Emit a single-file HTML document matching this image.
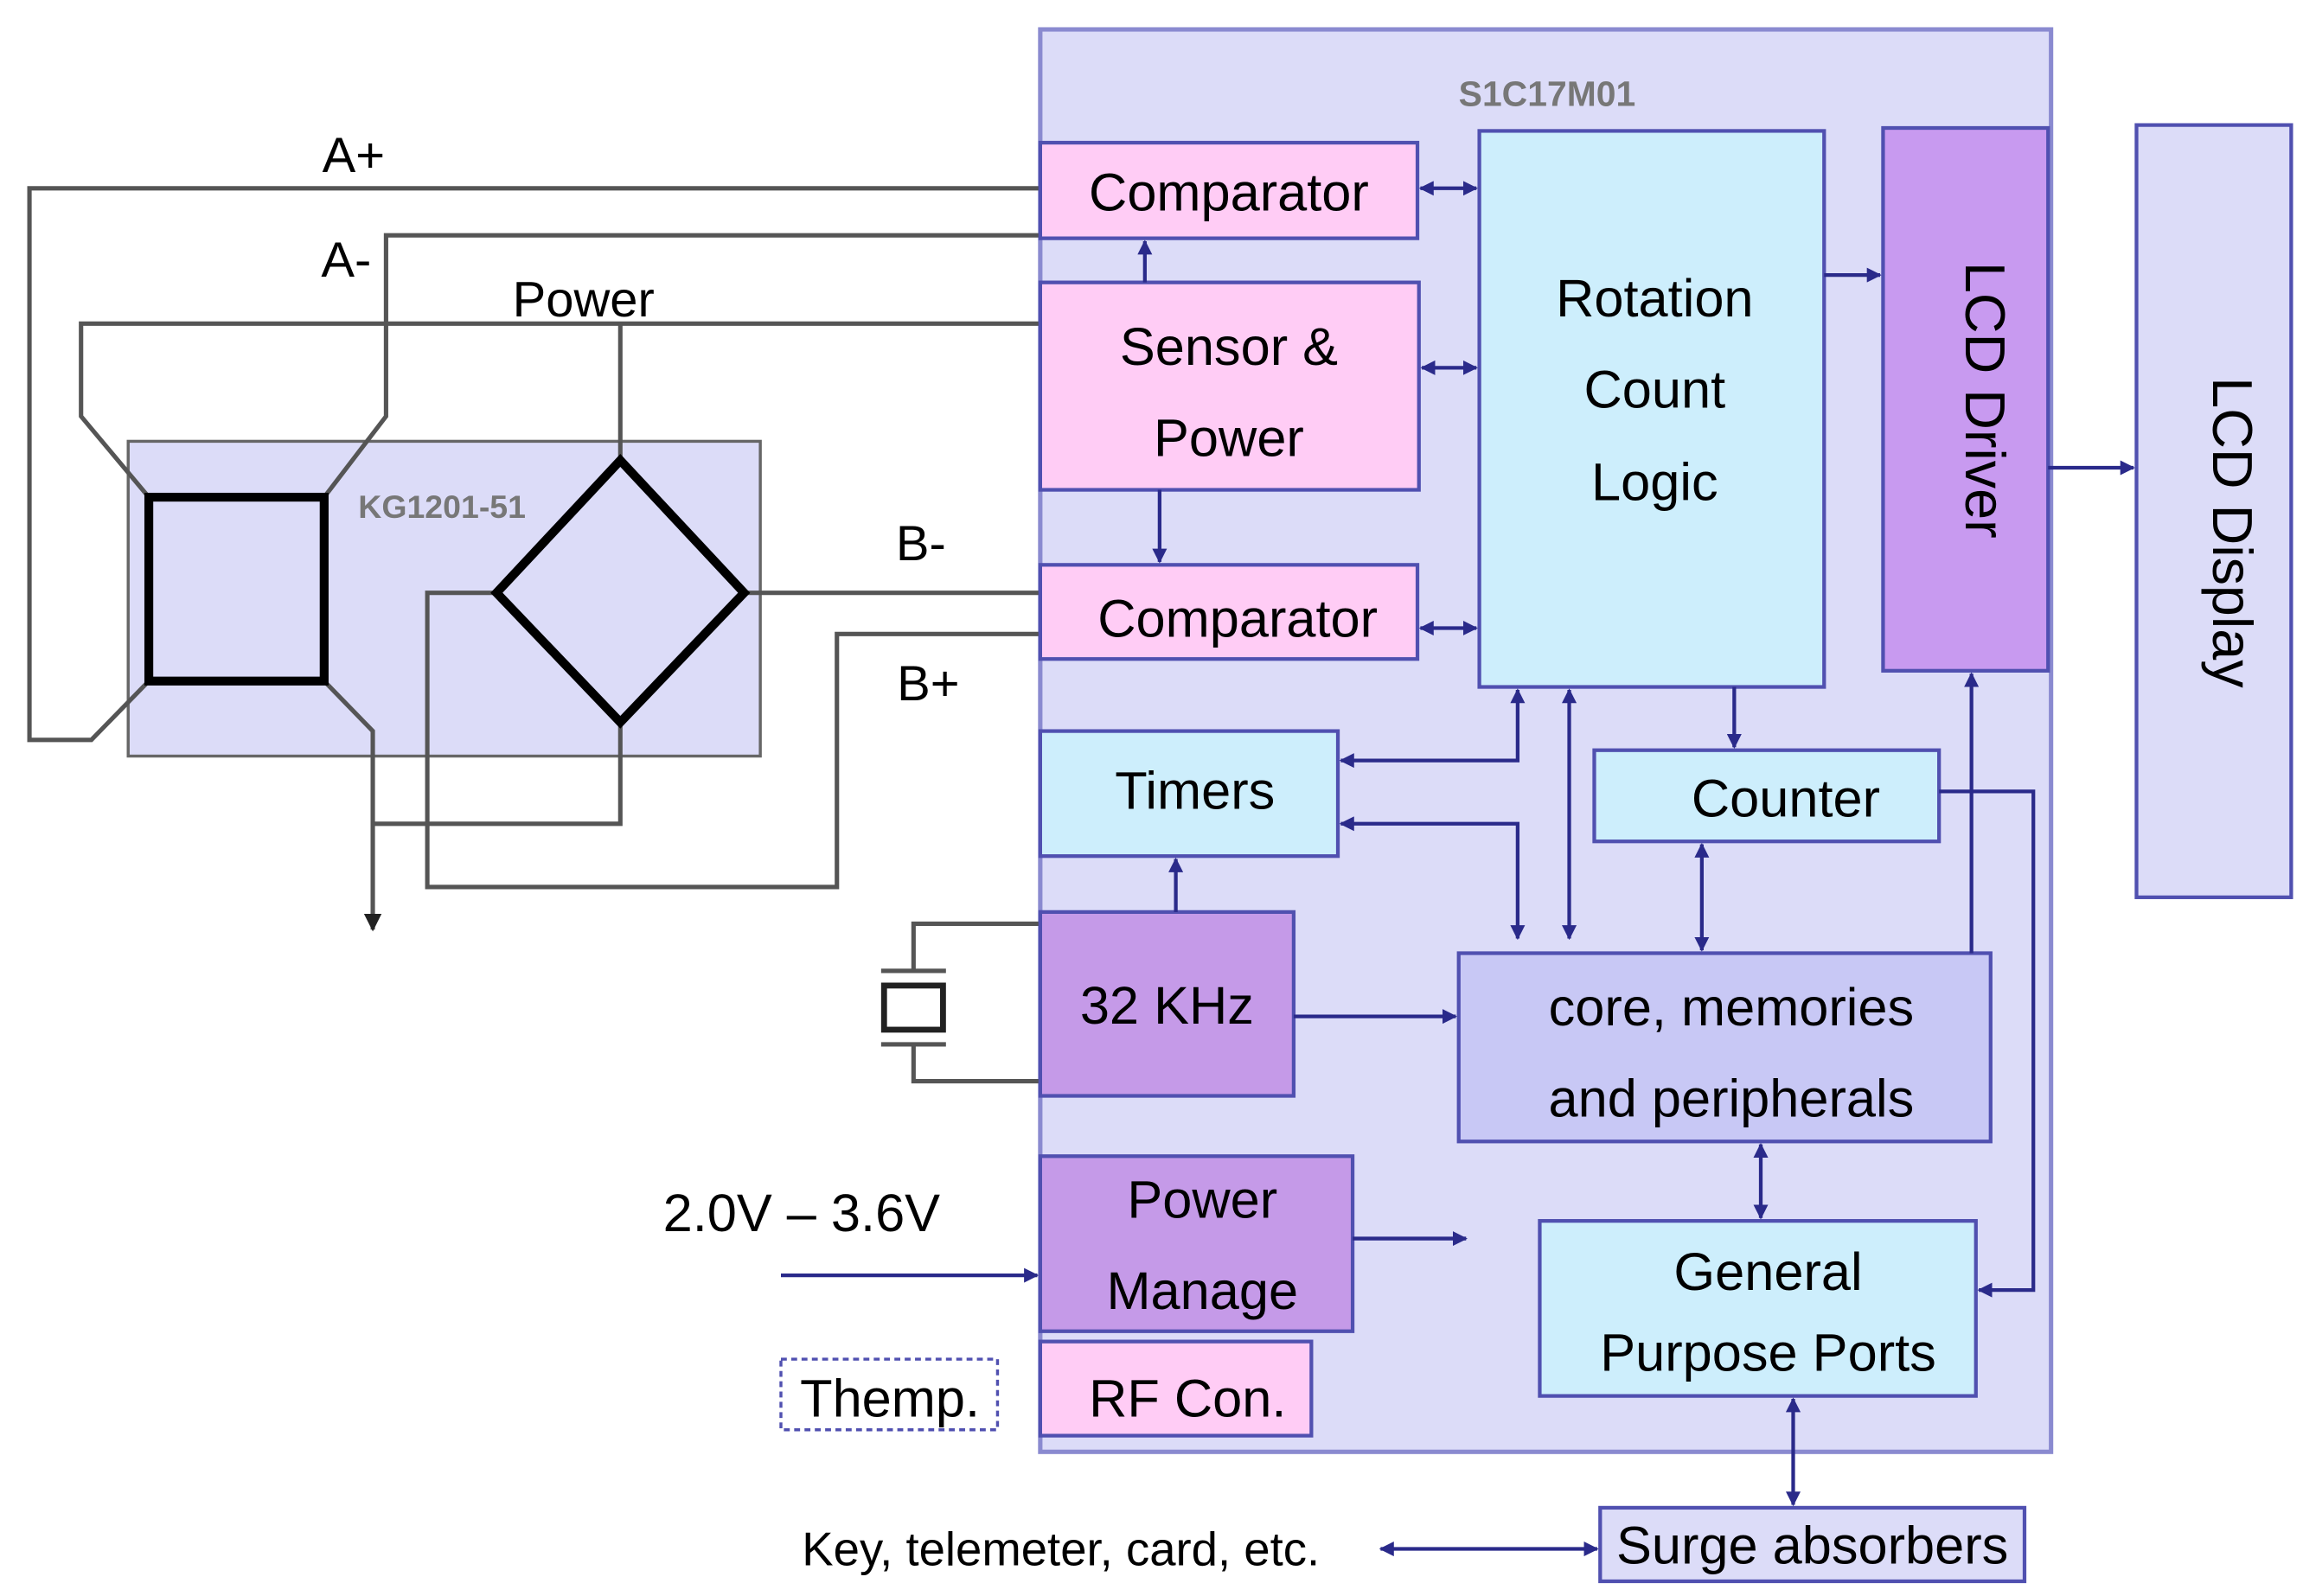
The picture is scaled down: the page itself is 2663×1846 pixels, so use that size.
<!DOCTYPE html>
<html><head><meta charset="utf-8"><style>html,body{margin:0;padding:0;background:#fff}svg{display:block}text{font-family:"Liberation Sans",sans-serif}</style></head><body>
<svg width="2663" height="1846" viewBox="0 0 1563 1085" preserveAspectRatio="none" xmlns="http://www.w3.org/2000/svg">
<defs>
<marker id="ar" viewBox="0 0 10 10" refX="9" refY="5" markerWidth="4" markerHeight="4" orient="auto-start-reverse"><path d="M0,0L10,5L0,10z" fill="#2a2a8a"/></marker>
<marker id="ak" viewBox="0 0 10 10" refX="9" refY="5" markerWidth="4" markerHeight="4" orient="auto"><path d="M0,0L10,5L0,10z" fill="#222"/></marker>
</defs>
<rect width="1563" height="1085" fill="#fff"/>
<!-- chip -->
<rect x="706" y="20" width="686" height="967" fill="#dcdcf8" stroke="#8a8ad0" stroke-width="3"/>
<text x="1050" y="72" font-size="24" font-weight="bold" fill="#777" text-anchor="middle">S1C17M01</text>
<!-- KG box -->
<rect x="87" y="300" width="429" height="214" fill="#dcdcf8" stroke="#666" stroke-width="2"/>
<text x="300" y="352" font-size="22" font-weight="bold" fill="#777" text-anchor="middle">KG1201-51</text>
<!-- wires -->
<g fill="none" stroke="#555" stroke-width="3">
<polyline points="706,128 20,128 20,503 62,503 101,463"/>
<polyline points="706,160 262,160 262,283 220,338"/>
<polyline points="706,220 55,220 55,283 101,338"/>
<line x1="421" y1="220" x2="421" y2="313"/>
<line x1="505" y1="403" x2="706" y2="403"/>
<polyline points="706,431 568,431 568,603 290,603 290,403 337,403"/>
<polyline points="220,463 253,497 253,632" marker-end="url(#ak)"/>
<polyline points="421,491 421,560 253,560"/>
<polyline points="706,628 620,628 620,660"/>
<polyline points="706,735 620,735 620,710"/>
<line x1="598" y1="660" x2="642" y2="660"/>
<line x1="598" y1="710" x2="642" y2="710"/>
</g>
<rect x="600" y="670" width="40" height="30" fill="#fff" stroke="#222" stroke-width="4"/>
<rect x="101" y="338" width="119" height="125" fill="#dcdcf8" stroke="#000" stroke-width="6"/>
<polygon points="421,313 505,403 421,491 337,403" fill="#dcdcf8" stroke="#000" stroke-width="6"/>
<g font-size="34" fill="#000">
<text x="240" y="117" text-anchor="middle">A+</text>
<text x="235" y="188" text-anchor="middle">A-</text>
<text x="396" y="215" text-anchor="middle">Power</text>
<text x="625" y="381" text-anchor="middle">B-</text>
<text x="630" y="476" text-anchor="middle">B+</text>
</g>
<!-- blocks -->
<g stroke="#5050b0" stroke-width="2.5">
<rect x="706" y="97" width="256" height="65" fill="#ffccf5"/>
<rect x="706" y="192" width="257" height="141" fill="#ffccf5"/>
<rect x="706" y="384" width="256" height="64" fill="#ffccf5"/>
<rect x="1004" y="89" width="234" height="378" fill="#cdeefc"/>
<rect x="1278" y="87" width="112" height="369" fill="#c89af0"/>
<rect x="1450" y="85" width="105" height="525" fill="#dcdcf8"/>
<rect x="706" y="497" width="202" height="85" fill="#cdeefc"/>
<rect x="1082" y="510" width="234" height="62" fill="#cdeefc"/>
<rect x="706" y="620" width="172" height="125" fill="#c59ae8"/>
<rect x="990" y="648" width="361" height="128" fill="#c8c8f5"/>
<rect x="706" y="786" width="212" height="119" fill="#c59ae8"/>
<rect x="706" y="912" width="184" height="64" fill="#ffccf5"/>
<rect x="1045" y="830" width="296" height="119" fill="#cdeefc"/>
<rect x="1086" y="1025" width="288" height="50" fill="#dcdcf8"/>
</g>
<rect x="530" y="924" width="147" height="48" fill="#fff" stroke="#5050b0" stroke-width="2" stroke-dasharray="4,3"/>
<g font-size="36" fill="#000" text-anchor="middle">
<text x="834" y="143">Comparator</text>
<text x="834" y="248">Sensor &amp;</text>
<text x="834" y="310">Power</text>
<text x="840" y="433">Comparator</text>
<text x="1123" y="215">Rotation</text>
<text x="1123" y="277">Count</text>
<text x="1123" y="340">Logic</text>
<text x="811" y="550">Timers</text>
<text x="1212" y="555">Counter</text>
<text x="792" y="696">32 KHz</text>
<text x="1175" y="697">core, memories</text>
<text x="1175" y="759">and peripherals</text>
<text x="816" y="828">Power</text>
<text x="816" y="890">Manage</text>
<text x="806" y="963">RF Con.</text>
<text x="1200" y="877">General</text>
<text x="1200" y="932">Purpose Ports</text>
<text x="1230" y="1063">Surge absorbers</text>
<text x="604" y="963">Themp.</text>
<text x="544" y="837">2.0V – 3.6V</text>
<text x="720" y="1064" font-size="32">Key, telemeter, card, etc.</text>
<text transform="translate(1334,272) rotate(90)" font-size="38">LCD Driver</text>
<text transform="translate(1502,362) rotate(90)" font-size="38">LCD Display</text>
</g>
<!-- arrows -->
<g fill="none" stroke="#2a2a8a" stroke-width="2.5">
<line x1="964" y1="128" x2="1002" y2="128" marker-start="url(#ar)" marker-end="url(#ar)"/>
<line x1="777" y1="192" x2="777" y2="164" marker-end="url(#ar)"/>
<line x1="965" y1="250" x2="1002" y2="250" marker-start="url(#ar)" marker-end="url(#ar)"/>
<line x1="787" y1="333" x2="787" y2="382" marker-end="url(#ar)"/>
<line x1="964" y1="427" x2="1002" y2="427" marker-start="url(#ar)" marker-end="url(#ar)"/>
<line x1="1238" y1="187" x2="1276" y2="187" marker-end="url(#ar)"/>
<line x1="1390" y1="318" x2="1448" y2="318" marker-end="url(#ar)"/>
<polyline points="910,517 1030,517 1030,469" marker-start="url(#ar)" marker-end="url(#ar)"/>
<polyline points="910,560 1030,560 1030,638" marker-start="url(#ar)" marker-end="url(#ar)"/>
<line x1="1065" y1="469" x2="1065" y2="638" marker-start="url(#ar)" marker-end="url(#ar)"/>
<line x1="1177" y1="467" x2="1177" y2="508" marker-end="url(#ar)"/>
<line x1="1155" y1="574" x2="1155" y2="646" marker-start="url(#ar)" marker-end="url(#ar)"/>
<polyline points="1316,538 1380,538 1380,877 1343,877" marker-end="url(#ar)"/>
<line x1="1338" y1="648" x2="1338" y2="458" marker-end="url(#ar)"/>
<line x1="798" y1="620" x2="798" y2="584" marker-end="url(#ar)"/>
<line x1="878" y1="691" x2="988" y2="691" marker-end="url(#ar)"/>
<line x1="1195" y1="778" x2="1195" y2="828" marker-start="url(#ar)" marker-end="url(#ar)"/>
<line x1="918" y1="842" x2="995" y2="842" marker-end="url(#ar)"/>
<line x1="530" y1="867" x2="704" y2="867" marker-end="url(#ar)"/>
<line x1="1217" y1="951" x2="1217" y2="1023" marker-start="url(#ar)" marker-end="url(#ar)"/>
<line x1="937" y1="1053" x2="1084" y2="1053" marker-start="url(#ar)" marker-end="url(#ar)"/>
</g>
</svg>
</body></html>
